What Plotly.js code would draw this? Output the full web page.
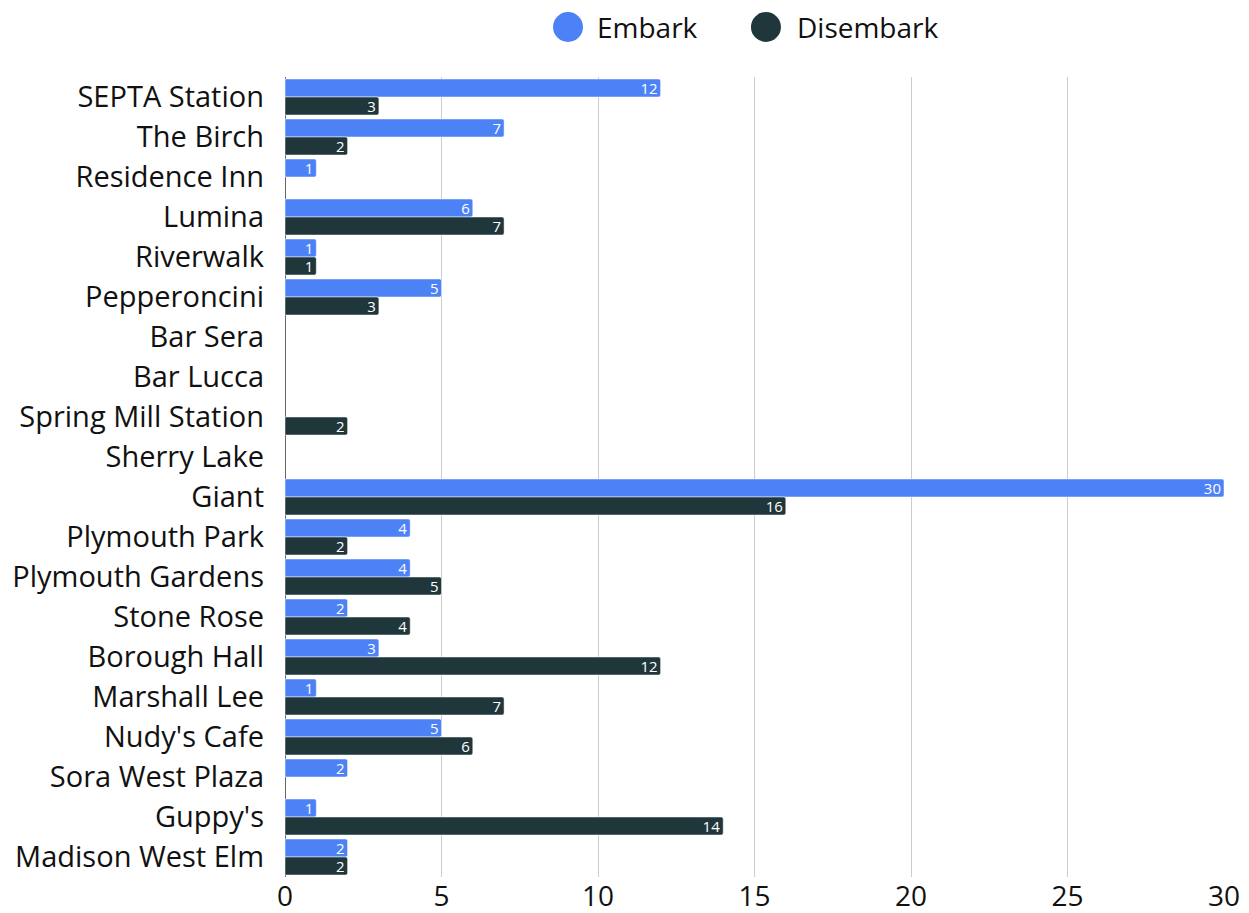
<!DOCTYPE html>
<html>
<head>
<meta charset="utf-8">
<script src="https://cdn.plot.ly/plotly-3.0.1.min.js"></script>
<style>html,body{margin:0;padding:0;background:#fff;}#chart{width:1249px;height:913px;}</style>
</head>
<body>
<div id="chart"></div>
<script>
const stops = ["SEPTA Station","The Birch","Residence Inn","Lumina","Riverwalk","Pepperoncini","Bar Sera","Bar Lucca","Spring Mill Station","Sherry Lake","Giant","Plymouth Park","Plymouth Gardens","Stone Rose","Borough Hall","Marshall Lee","Nudy's Cafe","Sora West Plaza","Guppy's","Madison West Elm"];
const embark =    [12, 7, 1, 6, 1, 5, null, null, null, null, 30, 4, 4, 2, 3, 1, 5, 2, 1, 2];
const disembark = [3, 2, null, 7, 1, 3, null, null, 2, null, 16, 2, 5, 4, 12, 7, 6, null, 14, 2];
const seriesNames = ["Embark", "Disembark"];
const colors = ["#4d82f7", "#1f363b"];
const xTicks = [0, 5, 10, 15, 20, 25, 30];

const font = "Open Sans, Noto Sans, sans-serif";
const barTrace = (vals, i) => ({
  type: "bar", orientation: "h", y: stops, x: vals, name: seriesNames[i],
  marker: {color: colors[i], cornerradius: 2, line: {color: "#ffffff", width: 0.5}},
  text: vals.map(v => v == null ? "" : String(v)),
  textposition: "inside", insidetextanchor: "end", textangle: 0,
  textfont: {color: "#ffffff", size: 15, family: font},
  showlegend: false, hoverinfo: "x+y"
});

// custom legend (large circle markers)
const legendX = [0.3014, 0.5122];
const legendTextX = [0.3301, 0.5431];
const legendY = 1.0625;
const shapes = seriesNames.map((n, i) => ({
  type: "circle", xref: "paper", yref: "paper", xsizemode: "pixel", ysizemode: "pixel",
  xanchor: legendX[i], yanchor: legendY, x0: -15, x1: 15, y0: -15, y1: 15,
  fillcolor: colors[i], line: {width: 0}
}));
const annotations = seriesNames.map((n, i) => ({
  text: n, xref: "paper", yref: "paper", x: legendTextX[i], y: legendY,
  xanchor: "left", yanchor: "middle", showarrow: false,
  font: {size: 28, family: font, color: "#111111"}
}));

const data = [barTrace(embark, 0), barTrace(disembark, 1)];
const layout = {
  width: 1249, height: 913,
  margin: {l: 285, r: 25, t: 77, b: 36, pad: 0},
  paper_bgcolor: "#ffffff", plot_bgcolor: "#ffffff",
  font: {family: font, color: "#111111", size: 28},
  barmode: "group", bargap: 0.1, bargroupgap: 0,
  uniformtext: {minsize: 15, mode: "show"},
  showlegend: false,
  shapes: shapes, annotations: annotations,
  xaxis: {range: [0, 30], tickvals: xTicks, ticktext: xTicks.map(String), showgrid: true, gridcolor: "#cccccc", gridwidth: 1,
          zeroline: true, zerolinecolor: "#666666", zerolinewidth: 1, showline: false, ticks: "",
          tickfont: {size: 28, color: "#111111"}, fixedrange: true},
  yaxis: {type: "category", autorange: "reversed", showgrid: false, zeroline: false, showline: false, ticks: "",
          ticklabelstandoff: 20, tickfont: {size: 29, color: "#111111"}, fixedrange: true}
};
Plotly.newPlot("chart", data, layout, {displayModeBar: false, staticPlot: true});
</script>
</body>
</html>
